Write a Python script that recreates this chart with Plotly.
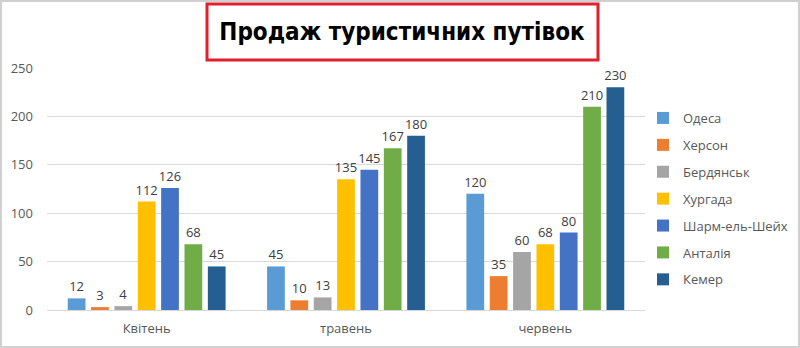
import plotly.graph_objects as go

months = ["Квітень", "травень", "червень"]
resorts = ["Одеса", "Херсон", "Бердянськ", "Хургада", "Шарм-ель-Шейх", "Анталія", "Кемер"]
sales = {
    "Одеса": [12, 45, 120],
    "Херсон": [3, 10, 35],
    "Бердянськ": [4, 13, 60],
    "Хургада": [112, 135, 68],
    "Шарм-ель-Шейх": [126, 145, 80],
    "Анталія": [68, 167, 210],
    "Кемер": [45, 180, 230],
}
colors = ["#5B9BD5", "#ED7D31", "#A5A5A5", "#FFC000", "#4472C4", "#70AD47", "#255E91"]
y_ticks = [0, 50, 100, 150, 200, 250]

W, H = 800, 348
ML, MR, MT, MB = 47, 155, 68, 38
pw, ph = W - ML - MR, H - MT - MB


def px_x(x):
    return (x - ML) / pw


def px_y(y):
    return (H - MB - y) / ph


FONT = "Open Sans"

fig = go.Figure()
for i, name in enumerate(resorts):
    fig.add_trace(go.Bar(
        name=name,
        x=months,
        y=sales[name],
        marker=dict(color=colors[i], line=dict(width=0)),
        text=[str(v) for v in sales[name]],
        textposition="outside",
        constraintext="none",
        textfont=dict(family=FONT, size=13, color="#404040"),
        cliponaxis=False,
        legendgroup=name,
    ))

shapes = [
    # outer frame
    dict(type="rect", xref="paper", yref="paper",
         x0=px_x(1), x1=px_x(W - 1), y0=px_y(1), y1=px_y(H - 1),
         line=dict(color="#d0d0d0", width=2), layer="below"),
    # title box
    dict(type="rect", xref="paper", yref="paper",
         x0=px_x(207), x1=px_x(598), y0=px_y(4), y1=px_y(60),
         line=dict(color="#E0202A", width=3)),
]

fig.update_layout(
    width=W, height=H,
    margin=dict(l=ML, r=MR, t=MT, b=MB, autoexpand=False),
    paper_bgcolor="white", plot_bgcolor="white",
    barmode="group", bargap=0.18, bargroupgap=0.24,
    font=dict(family=FONT, color="#595959", size=13),
    title=dict(text="<b>Продаж туристичних путівок</b>",
               x=402 / W, xref="container", xanchor="center",
               y=1 - 32 / H, yref="container", yanchor="middle",
               font=dict(family="DejaVu Sans Condensed", size=24, color="black")),
    showlegend=True,
    legend=dict(xref="container", yref="container",
                x=643 / W, xanchor="left", y=1 - 103 / H, yanchor="top",
                font=dict(family=FONT, size=13, color="#595959"),
                tracegroupgap=7, itemwidth=30, bgcolor="rgba(0,0,0,0)",
                maxheight=320),
    shapes=shapes,
    xaxis=dict(showgrid=False, showline=True, linecolor="#d9d9d9", linewidth=1,
               ticks="", ticklabelstandoff=6,
               tickfont=dict(family=FONT, size=13, color="#595959")),
    yaxis=dict(range=[0, 250], tickvals=y_ticks, showgrid=True, gridcolor="#d9d9d9",
               gridwidth=1, zeroline=False, showline=False, ticks="",
               ticklabelstandoff=13,
               tickfont=dict(family=FONT, size=13, color="#595959")),
)

fig.write_html("out.html")
